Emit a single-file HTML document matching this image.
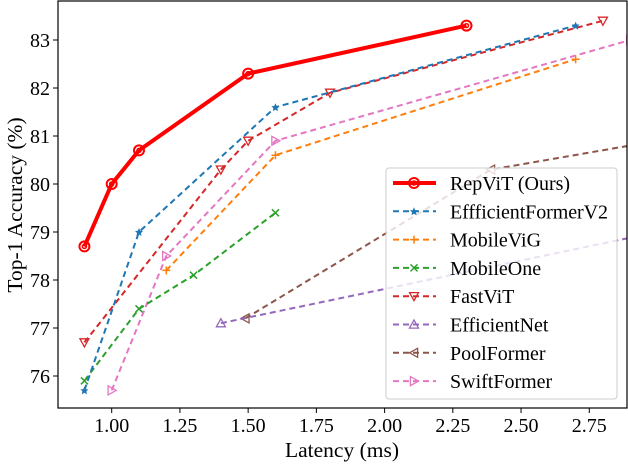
<!DOCTYPE html>
<html><head><meta charset="utf-8"><style>
html,body{margin:0;padding:0;background:#fff}
svg{display:block;font-family:"Liberation Serif","DejaVu Serif",serif}
</style></head><body>
<svg id="chart" width="628" height="466" viewBox="0 0 628 466" xmlns="http://www.w3.org/2000/svg">
<defs><clipPath id="plotclip"><rect x="58" y="1" width="569" height="407"/></clipPath></defs>
<g id="grid"></g>
<g id="series" clip-path="url(#plotclip)"></g>
<rect x="58" y="1" width="569" height="407" fill="none" stroke="#000" stroke-width="1.2"/>
<g id="ticks"></g>
<text x="342" y="457" font-size="21.5" text-anchor="middle">Latency (ms)</text>
<text transform="translate(22,205) rotate(-90)" font-size="21.5" text-anchor="middle">Top-1 Accuracy (%)</text>
<g id="legend"></g>
</svg>
<script>
const seriesNames=["RepViT (Ours)","EffficientFormerV2","MobileViG","MobileOne","FastViT","EfficientNet","PoolFormer","SwiftFormer"];
const repvitX=[0.9,1.0,1.1,1.5,2.3];
const repvitY=[78.7,80.0,80.7,82.3,83.3];
const effv2X=[0.9,1.1,1.6,2.7];
const effv2Y=[75.7,79.0,81.6,83.3];
const mobilevigX=[1.2,1.6,2.7];
const mobilevigY=[78.2,80.6,82.6];
const mobileoneX=[0.9,1.1,1.3,1.6];
const mobileoneY=[75.9,77.4,78.1,79.4];
const fastvitX=[0.9,1.4,1.5,1.8,2.8];
const fastvitY=[76.7,80.3,80.9,81.9,83.4];
const effnetX=[1.4,3.0];
const effnetY=[77.1,79.0];
const poolX=[1.49,2.39,3.0];
const poolY=[77.2,80.3,80.9];
const swiftX=[1.0,1.2,1.6,2.9];
const swiftY=[75.7,78.5,80.9,83.0];
const xTicks=[1.00,1.25,1.50,1.75,2.00,2.25,2.50,2.75];
const yTicks=[76,77,78,79,80,81,82,83];

const NS="http://www.w3.org/2000/svg";
function xs(v){return 111.7+(v-1)*272.9;}
function ys(v){return 40+(83-v)*48;}
function mk(tag,attrs,parent){const e=document.createElementNS(NS,tag);for(const k in attrs)e.setAttribute(k,attrs[k]);parent.appendChild(e);return e;}

const ticks=document.getElementById('ticks');
xTicks.forEach(t=>{
  const l=mk('line',{x1:xs(t),x2:xs(t),y1:408,y2:413,stroke:'#000'},ticks);
  
  
  const tx=mk('text',{x:xs(t),y:432,'font-size':20,'text-anchor':'middle'},ticks);
  tx.textContent=t.toFixed(2);
  
  
});
yTicks.forEach(t=>{
  const l=mk('line',{x1:53,x2:58,y1:ys(t),y2:ys(t),stroke:'#000'},ticks);
  
  
  const tx=mk('text',{x:50,y:ys(t)+7,'font-size':20,'text-anchor':'end'},ticks);
  tx.textContent=t;
  
  
});

const styles=[
 {c:'#ff0000',w:4,dash:'',m:'circle'},
 {c:'#1f77b4',w:2,dash:'6,4',m:'star'},
 {c:'#ff7f0e',w:2,dash:'6,4',m:'plus'},
 {c:'#2ca02c',w:2,dash:'6,4',m:'x'},
 {c:'#d62728',w:2,dash:'6,4',m:'tridown'},
 {c:'#9467bd',w:2,dash:'6,4',m:'triup'},
 {c:'#8c564b',w:2,dash:'6,4',m:'trileft'},
 {c:'#e377c2',w:2,dash:'6,4',m:'triright'}];
const data=[[repvitX,repvitY],[effv2X,effv2Y],[mobilevigX,mobilevigY],[mobileoneX,mobileoneY],[fastvitX,fastvitY],[effnetX,effnetY],[poolX,poolY],[swiftX,swiftY]];

function marker(type,x,y,c,g){
  let e;
  if(type==='circle'){mk('circle',{cx:x,cy:y,r:5,fill:'none',stroke:c,'stroke-width':2},g);e=mk('circle',{cx:x,cy:y,r:2,fill:'none',stroke:c,'stroke-width':1.5},g);}
  else if(type==='star'){e=mk('path',{d:`M${x},${y-4}L${x+1.2},${y-1.2}L${x+4},${y-1}L${x+2},${y+1}L${x+2.5},${y+4}L${x},${y+2.4}L${x-2.5},${y+4}L${x-2},${y+1}L${x-4},${y-1}L${x-1.2},${y-1.2}Z`,fill:c},g);}
  else if(type==='plus'){e=mk('path',{d:`M${x-4},${y}H${x+4}M${x},${y-4}V${y+4}`,stroke:c,'stroke-width':1.5},g);}
  else if(type==='x'){e=mk('path',{d:`M${x-3.5},${y-3.5}L${x+3.5},${y+3.5}M${x-3.5},${y+3.5}L${x+3.5},${y-3.5}`,stroke:c,'stroke-width':1.5},g);}
  else{
    const s=4.5;let p;
    if(type==='tridown')p=[[x-s,y-s*0.8],[x+s,y-s*0.8],[x,y+s]];
    if(type==='triup')p=[[x-s,y+s*0.8],[x+s,y+s*0.8],[x,y-s]];
    if(type==='trileft')p=[[x+s*0.8,y-s],[x+s*0.8,y+s],[x-s,y]];
    if(type==='triright')p=[[x-s*0.8,y-s],[x-s*0.8,y+s],[x+s,y]];
    e=mk('polygon',{points:p.map(q=>q.join(',')).join(' '),fill:'none',stroke:c,'stroke-width':1.3},g);
  }
  return e;
}

const sg=document.getElementById('series');
for(let i=data.length-1;i>=0;i--){
  const [X,Y]=data[i],st=styles[i];
  const g=mk('g',{},sg);
  
  
  const pts=X.map((x,j)=>xs(x)+','+ys(Y[j])).join(' ');
  const pl=mk('polyline',{points:pts,fill:'none',stroke:st.c,'stroke-width':st.w,'stroke-dasharray':st.dash,'stroke-linejoin':'round'},g);
  
  
  X.forEach((x,j)=>{
    const m=marker(st.m,xs(x),ys(Y[j]),st.c,g);
    
    
  });
}

const lg=document.getElementById('legend');


mk('rect',{x:386,y:168,width:231,height:231,rx:3,fill:'#fff','fill-opacity':0.8,stroke:'#ccc'},lg);
seriesNames.forEach((n,i)=>{
  const y=183+i*28.3,st=styles[i];
  const g=mk('g',{},lg);
  
  
  mk('line',{x1:393,x2:436,y1:y,y2:y,stroke:st.c,'stroke-width':st.w,'stroke-dasharray':st.dash},g);
  marker(st.m,414,y,st.c,g);
  const t=mk('text',{x:450,y:y+7,'font-size':20,textLength:n.length>15?158:null},g);
  if(n.length<=15)t.removeAttribute('textLength');
  t.textContent=n;
});
</script>
</body></html>
